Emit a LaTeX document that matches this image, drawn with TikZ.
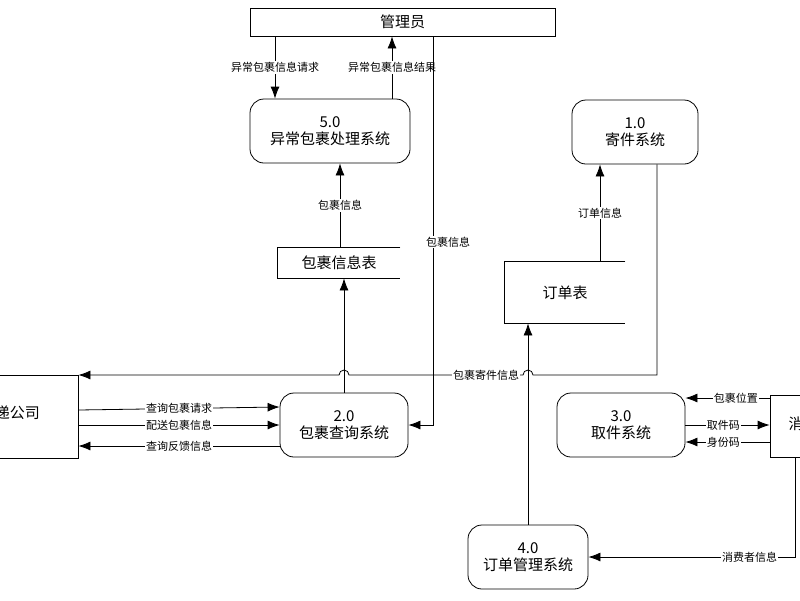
\documentclass[tikz,border=0pt]{standalone}
\usepackage{fontspec}
\setmainfont{Noto Sans CJK SC}
\usetikzlibrary{arrows.meta}
\tikzset{
	proc/.style={draw,rounded corners=14pt,minimum width=#1,minimum height=64pt,align=center,font=\fontsize{15}{17}\selectfont},
	ext/.style={draw,minimum height=#1,font=\fontsize{15}{17}\selectfont},
	store/.style={minimum height=#1,font=\fontsize{15}{17}\selectfont},
	lbl/.style={fill=white,inner sep=1pt,font=\fontsize{11}{13}\selectfont},
	arr/.style={-{Latex[length=12pt,width=9pt]}}
}
\begin{document}
\begin{tikzpicture}[x=1pt,y=-1pt,line width=0.8pt]
						\useasboundingbox (0,0) rectangle (800,600);
						\clip (0,0) rectangle (800,600);
						% externals
						\node [ext=28pt,minimum width=305pt] (admin) at (402.5,22) {管理员};
						\node [ext=83pt,minimum width=120pt] (comp) at (18,416.5) {};
						\node at (10,413) {\fontsize{15}{17}\selectfont 快递公司};
						\node [ext=62pt,minimum width=100pt] (cons) at (820,426) {};
						\node [anchor=west] at (785,424) {\fontsize{15}{17}\selectfont 消费者};
						% processes
						\node [proc=160pt] (p5) at (330,131) {5.0\\异常包裹处理系统};
						\node [proc=126pt] (p1) at (635,132) {1.0\\寄件系统};
						\node [proc=128pt] (p2) at (344,425) {2.0\\包裹查询系统};
						\node [proc=128pt] (p3) at (621,425) {3.0\\取件系统};
						\node [proc=120pt] (p4) at (528,557) {4.0\\订单管理系统};
						% data stores
						\node [store=30pt,minimum width=122pt] (s1) at (339,263) {包裹信息表};
						\draw (s1.north east) -- (s1.north west) -- (s1.south west) -- (s1.south east);
						\node [store=61pt,minimum width=120pt] (s2) at (565,292.5) {订单表};
						\draw (s2.north east) -- (s2.north west) -- (s2.south west) -- (s2.south east);
						% flows
						\draw [arr] (admin.south -| 275,0) -- node[lbl] {异常包裹信息请求} (p5.north -| 275,0);
						\draw [arr] (p5.north -| 392,0) -- node[lbl] {异常包裹信息结果} (admin.south -| 392,0);
						\draw [arr] (s1.north -| 340,0) -- node[lbl] {包裹信息} (p5.south -| 340,0);
						\draw [arr] (p2.north) -- (p2.north |- s1.south);
						\draw [arr] (admin.south -| 433,0) -- (433,425) -- (p2.east);
						\node [lbl] at (448,242) {包裹信息};
						\draw [arr] (s2.north -| p1.center) ++(-35,0) coordinate (c1) (c1) -- node[lbl] {订单信息} (c1 |- p1.south);
						\draw [arr] (p4.north) -- (s2.south -| p4.north);
						\draw [arr] (p1.south -| 657,0) -- (657,375) -- (533,375) arc[start angle=0,end angle=-180,radius=5]
							-- (349,375) arc[start angle=0,end angle=-180,radius=5] -- (comp.east |- 0,375);
						\node [lbl] at (486,375) {包裹寄件信息};
						\draw [arr] (comp.east |- 0,410) -- node[lbl] {查询包裹请求} (p2.west |- 0,407);
						\draw [arr] (comp.east |- 0,425) -- node[lbl] {配送包裹信息} (p2.west |- 0,425);
						\draw [arr] (p2.west |- 0,446) -- node[lbl] {查询反馈信息} (comp.east |- 0,446);
						\draw [arr] (cons.west |- 0,398) -- node[lbl,pos=0.4] {包裹位置} (p3.east |- 0,398);
						\draw [arr] (p3.east |- 0,425) -- node[lbl,pos=0.45] {取件码} (cons.west |- 0,425);
						\draw [arr] (cons.west |- 0,442) -- node[lbl,pos=0.55] {身份码} (p3.east |- 0,442);
						\draw [arr] (cons.south -| 795,0) -- (795,557) -- node[lbl,pos=0.22] {消费者信息} (p4.east);
\end{tikzpicture}
\end{document}
